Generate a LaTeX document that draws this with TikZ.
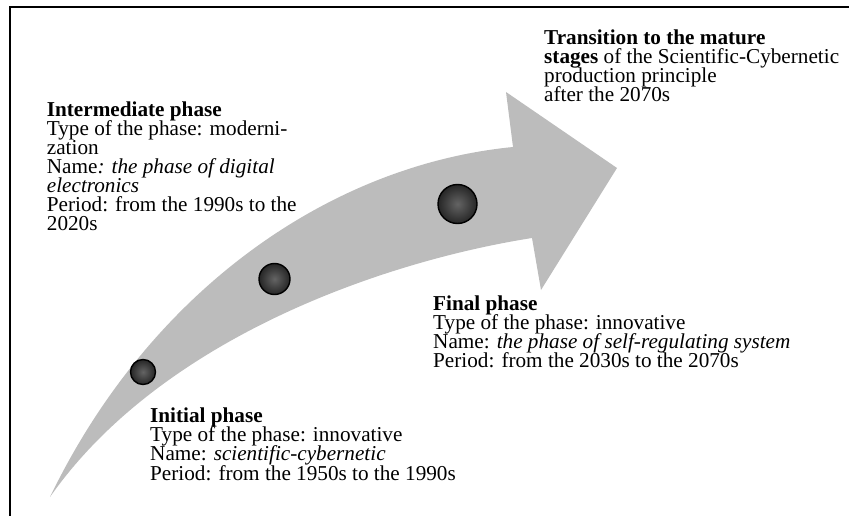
\documentclass[tikz,border=0pt]{standalone}
\usepackage{fontspec}
\setmainfont{Liberation Serif}
\definecolor{arrowgray}{RGB}{188,188,188}
\definecolor{ballin}{RGB}{100,100,100}
\definecolor{ballout}{RGB}{38,38,38}
\begin{document}
\begin{tikzpicture}[x=1pt,y=-1pt,
  ball/.style={circle,draw=black,line width=1.4pt,inner sep=0pt,
    inner color=ballin,outer color=ballout},
  txt/.style={anchor=base west,inner sep=0pt,align=left,
    font=\fontsize{21.2}{19.1}\selectfont,
    execute at begin node={\lineskiplimit=-100pt\relax}}]
\useasboundingbox (0,0) rectangle (849,516);
% frame
\draw[line width=2pt] (849,7.5) -- (9.5,7.5) -- (9.5,516);
% curved arrow
\fill[arrowgray] (50,497) .. controls (150,290) and (330,165) .. (513,147)
  -- (506,92) -- (617,168) -- (541,290) -- (532,238)
  .. controls (380,262) and (160,340) .. (50,497) -- cycle;
% balls
\node[ball,minimum size=25pt] (c1) at (143,372) {};
\node[ball,minimum size=31pt] (c2) at (274.5,279) {};
\node[ball,minimum size=39pt] (c3) at (457.5,204) {};
% texts (anchored at the baseline of their last line)
\node[txt] (inter) at (46.7,230.7) {\textbf{Intermediate phase}\\Type of the phase: moderni-\\zation\\Name\textit{: the phase of digital}\\\textit{electronics}\\Period: from the 1990s to the\\2020s};
\node[txt] (trans) at (544,101.7) {\textbf{Transition to the mature}\\\textbf{stages} of the Scientific-Cybernetic\\production principle\\after the 2070s};
\node[txt] (final) at (433,367.3) {\textbf{Final phase}\\Type of the phase: innovative\\Name: \textit{the phase of self-regulating system}\\Period: from the 2030s to the 2070s};
\node[txt] (init) at (150,480) {\textbf{Initial phase}\\Type of the phase: innovative\\Name: \textit{scientific-cybernetic}\\Period: from the 1950s to the 1990s};
\end{tikzpicture}
\end{document}
